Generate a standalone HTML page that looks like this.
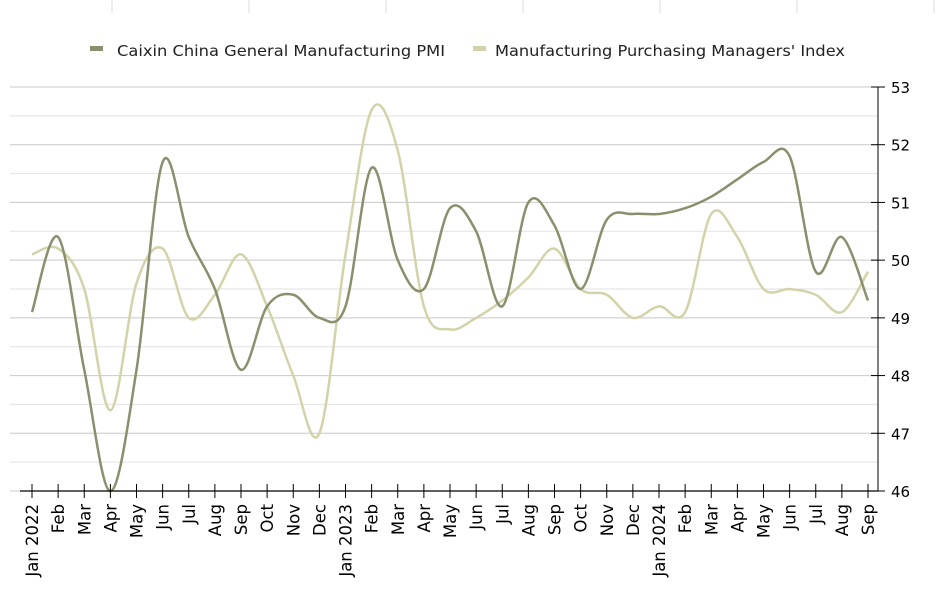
<!DOCTYPE html>
<html><head><meta charset="utf-8"><style>
body{margin:0;background:#fff;font-family:"DejaVu Sans","Liberation Sans",sans-serif}
</style></head><body>
<svg id="s" width="936" height="610" xmlns="http://www.w3.org/2000/svg" font-family="DejaVu Sans, Liberation Sans, sans-serif">
<g stroke="#ddd" stroke-width="1">
<line x1="112" y1="0" x2="112" y2="13"/><line x1="249" y1="0" x2="249" y2="13"/><line x1="386" y1="0" x2="386" y2="13"/><line x1="523" y1="0" x2="523" y2="13"/><line x1="660" y1="0" x2="660" y2="13"/><line x1="797" y1="0" x2="797" y2="13"/><line x1="934" y1="0" x2="934" y2="13"/>
</g>
<rect x="90" y="46" width="13" height="5" fill="#8a8f6e"/>
<text x="117" y="56" font-size="15.5" textLength="328" lengthAdjust="spacingAndGlyphs" fill="#222">Caixin China General Manufacturing PMI</text>
<rect x="473" y="46" width="13" height="5" fill="#d3d3aa"/>
<text x="495" y="56" font-size="15.5" textLength="350" lengthAdjust="spacingAndGlyphs" fill="#222">Manufacturing Purchasing Managers' Index</text>
<g id="grid"></g>
<g id="ser" fill="none" stroke-width="2.5"></g>
<g id="ax"></g>
</svg>
<script>
const NS="http://www.w3.org/2000/svg";
function el(p,t,a,txt){const e=document.createElementNS(NS,t);for(const k in a)e.setAttribute(k,a[k]);if(txt)e.textContent=txt;p.appendChild(e);return e;}
const X=i=>32+i*26.125, Y=v=>491-(v-46)*57.714;
const g=document.getElementById('grid'),ax=document.getElementById('ax'),s=document.getElementById('ser');
for(let k=0;k<=14;k++){const v=46+k*0.5,y=Y(v);
 el(g,'line',{x1:10,x2:878,y1:y,y2:y,stroke:k%2?'#e2e2e2':'#c8c8c8','stroke-width':1});
 if(k%2==0){el(ax,'line',{x1:871,x2:885,y1:y,y2:y,stroke:'#000'});
 el(ax,'text',{x:891,y:y+6,'font-size':15,fill:'#000'},String(v));}}
el(ax,'line',{x1:878,x2:878,y1:87,y2:491,stroke:'#000'});
el(ax,'line',{x1:20,x2:878,y1:491,y2:491,stroke:'#000','stroke-width':1.3});
const lab=["Jan 2022","Feb","Mar","Apr","May","Jun","Jul","Aug","Sep","Oct","Nov","Dec","Jan 2023","Feb","Mar","Apr","May","Jun","Jul","Aug","Sep","Oct","Nov","Dec","Jan 2024","Feb","Mar","Apr","May","Jun","Jul","Aug","Sep"];
lab.forEach((l,i)=>{const x=X(i);el(ax,'line',{x1:x,x2:x,y1:484,y2:498,stroke:'#000'});
 el(ax,'text',{x:0,y:0,'font-size':16.5,fill:'#000','text-anchor':'end',transform:`translate(${x+6},504) rotate(-90)`},l);});
const A=[49.1,50.4,48.1,46.0,48.1,51.7,50.4,49.5,48.1,49.2,49.4,49.0,49.2,51.6,50.0,49.5,50.9,50.5,49.2,51.0,50.6,49.5,50.7,50.8,50.8,50.9,51.1,51.4,51.7,51.8,49.8,50.4,49.3];
const B=[50.1,50.2,49.5,47.4,49.6,50.2,49.0,49.4,50.1,49.2,48.0,47.0,50.1,52.6,51.9,49.2,48.8,49.0,49.3,49.7,50.2,49.5,49.4,49.0,49.2,49.1,50.8,50.4,49.5,49.5,49.4,49.1,49.8];
function path(d){const p=d.map((v,i)=>[X(i),Y(v)]);let str=`M${p[0]}`;
 for(let i=0;i<p.length-1;i++){const p0=p[i-1]||p[i],p1=p[i],p2=p[i+1],p3=p[i+2]||p2;
  str+=`C${p1[0]+(p2[0]-p0[0])/6},${p1[1]+(p2[1]-p0[1])/6} ${p2[0]-(p3[0]-p1[0])/6},${p2[1]-(p3[1]-p1[1])/6} ${p2[0]},${p2[1]}`;}
 return str;}
el(s,'path',{d:path(B),stroke:'#d3d3aa'});
el(s,'path',{d:path(A),stroke:'#8a8f6e'});
</script>
</body></html>
